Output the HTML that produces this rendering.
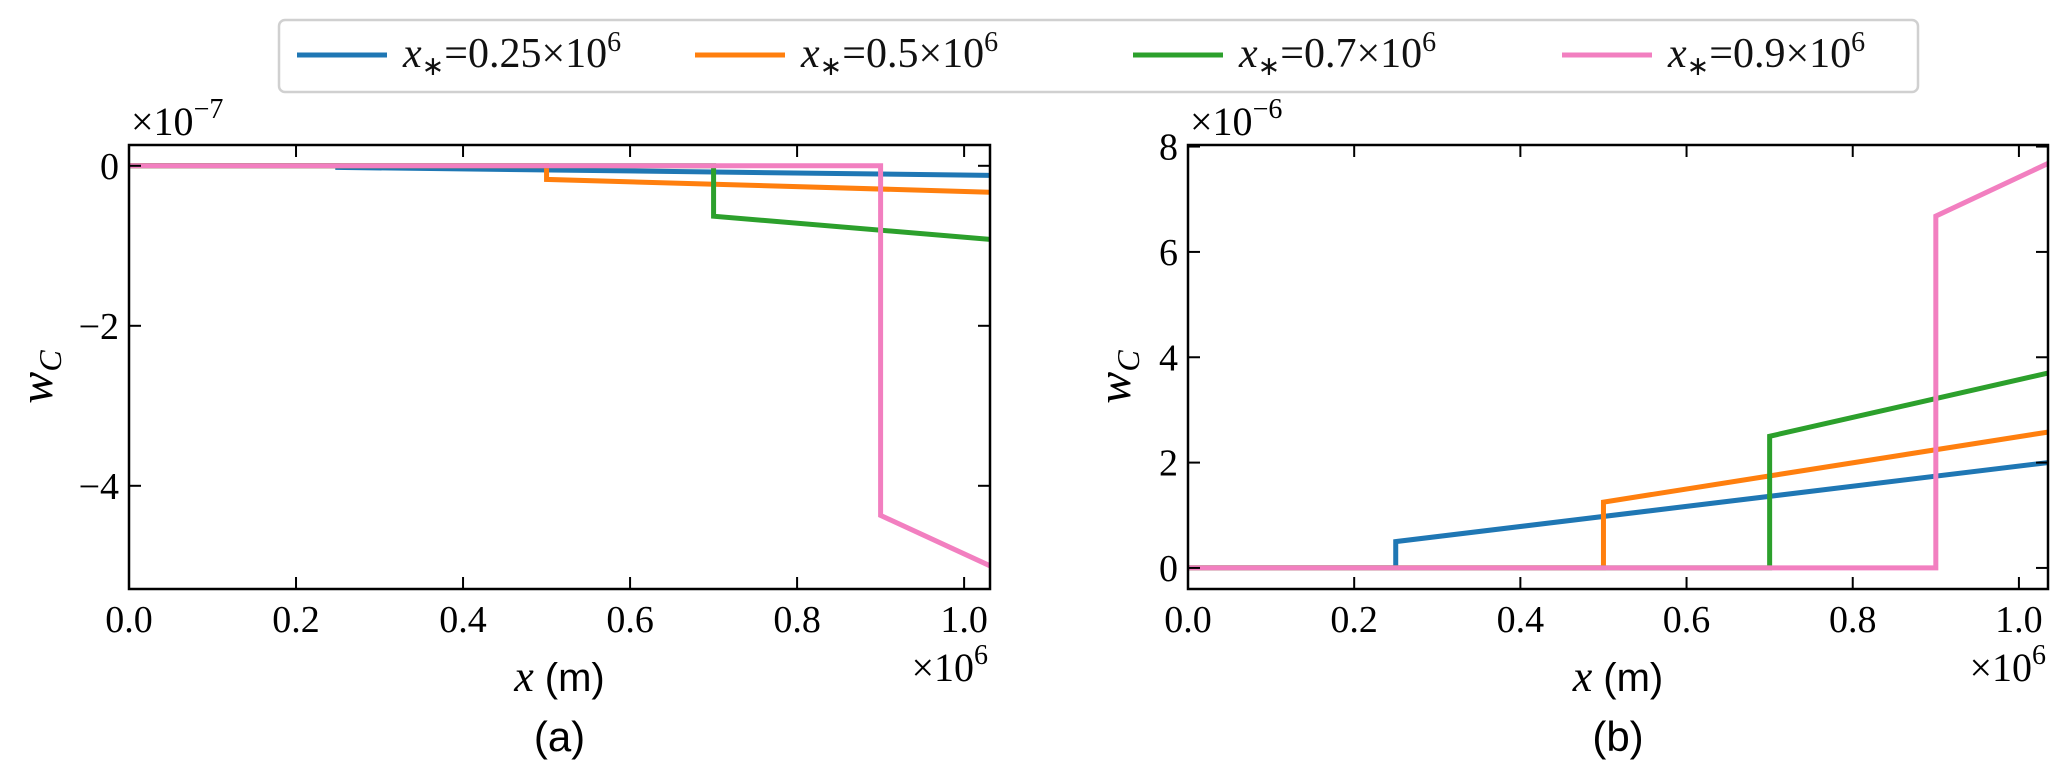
<!DOCTYPE html>
<html><head><meta charset="utf-8">
<style>
html,body{margin:0;padding:0;background:#fff;}
svg{display:block;font-family:"Liberation Serif",serif;}
</style></head>
<body>
<svg id="chart" width="2067" height="776" viewBox="0 0 2067 776" xmlns="http://www.w3.org/2000/svg">
<g id="legend">
<rect x="279" y="20" width="1639" height="72" rx="6" fill="#fff" stroke="#d0d0d0" stroke-width="2.5"/>
</g>
<g id="panels"></g>
</svg>
<script>
const seriesNames = ["0.25", "0.5", "0.7", "0.9"];
const seriesColors = ["#1f77b4", "#ff7f0e", "#2ca02c", "#f27fc0"];
const jumpX = [0.25, 0.5, 0.7, 0.9];
// panel (a) values ×1e-7: value just after jump, value at right end
const aJumpVal = [-0.02, -0.17, -0.63, -4.37];
const aEndVal = [-0.12, -0.33, -0.92, -5.0];
// panel (b) values ×1e-6
const bJumpVal = [0.5, 1.25, 2.5, 6.68];
const bEndVal = [2.0, 2.58, 3.7, 7.68];
const xTicks = [0, 0.2, 0.4, 0.6, 0.8, 1.0];
const xTickLabels = ["0.0", "0.2", "0.4", "0.6", "0.8", "1.0"];
const aYTicks = [0, -2, -4];
const aYTickLabels = ["0", "\u22122", "\u22124"];
const bYTicks = [0, 2, 4, 6, 8];
const bYTickLabels = ["0", "2", "4", "6", "8"];

const NS = "http://www.w3.org/2000/svg";
function mk(tag, attrs, parent, text) {
  const e = document.createElementNS(NS, tag);
  for (const k in attrs) e.setAttribute(k, attrs[k]);
  if (text !== undefined) e.textContent = text;
  parent.appendChild(e);
  return e;
}

const legend = document.getElementById("legend");
const legX = [297, 695, 1133, 1562];
seriesNames.forEach((n, i) => {
  const g = mk("g", {}, legend);
  
  
  mk("line", {x1: legX[i], x2: legX[i] + 90, y1: 55, y2: 55, stroke: seriesColors[i], "stroke-width": 5}, g);
  const t = mk("text", {x: legX[i] + 106, y: 67, "font-size": 42, fill: "#111"}, g);
  mk("tspan", {"font-style": "italic"}, t, "x");
  mk("tspan", {"font-size": 27, dy: 8}, t, "\u2217");
  mk("tspan", {dy: -8}, t, "=" + n + "\u00d710");
  mk("tspan", {"font-size": 28, dy: -16}, t, "6");
});

function panel(opt) {
  const root = document.getElementById("panels");
  const g = mk("g", {}, root);
  
  
  const {L, R, T, B, xmin, xmax, ymin, ymax} = opt;
  const sx = v => L + (v - xmin) / (xmax - xmin) * (R - L);
  const sy = v => B - (v - ymin) / (ymax - ymin) * (B - T);
  const clip = "clip-" + opt.name;
  const defs = mk("defs", {}, g);
  const cp = mk("clipPath", {id: clip}, defs);
  mk("rect", {x: L, y: T, width: R - L, height: B - T}, cp);
  const lines = mk("g", {"clip-path": "url(#" + clip + ")"}, g);
  seriesNames.forEach((n, i) => {
    const pts = [[xmin, 0], [jumpX[i], 0], [jumpX[i], opt.jump[i]], [xmax, opt.end[i]]];
    const p = mk("polyline", {points: pts.map(q => sx(q[0]) + "," + sy(q[1])).join(" "), fill: "none", stroke: seriesColors[i], "stroke-width": 5, "stroke-linejoin": "miter"}, lines);
    
    
  });
  xTicks.forEach((v, i) => {
    const x = sx(v);
    mk("line", {x1: x, x2: x, y1: B, y2: B - 12, stroke: "#000", "stroke-width": 2}, g);
    mk("line", {x1: x, x2: x, y1: T, y2: T + 12, stroke: "#000", "stroke-width": 2}, g);
    const t = mk("text", {x: x, y: B + 43, "font-size": 38, "text-anchor": "middle"}, g, xTickLabels[i]);
    
    
  });
  opt.yTicks.forEach((v, i) => {
    const y = sy(v);
    mk("line", {x1: L, x2: L + 12, y1: y, y2: y, stroke: "#000", "stroke-width": 2}, g);
    mk("line", {x1: R, x2: R - 12, y1: y, y2: y, stroke: "#000", "stroke-width": 2}, g);
    const t = mk("text", {x: L - 10, y: y + 13, "font-size": 38, "text-anchor": "end"}, g, opt.yLabels[i]);
    
    
  });
  const frame = mk("rect", {x: L, y: T, width: R - L, height: B - T, fill: "none", stroke: "#000", "stroke-width": 2.5}, g);
  
  
  const oy = mk("text", {x: L + 2, y: T - 10, "font-size": 40}, g);
  
  
  mk("tspan", {}, oy, "\u00d710");
  mk("tspan", {"font-size": 28, dy: -17}, oy, opt.yExp);
  const ox = mk("text", {x: R - 2, y: B + 92, "font-size": 40, "text-anchor": "end"}, g);
  
  
  mk("tspan", {}, ox, "\u00d710");
  mk("tspan", {"font-size": 28, dy: -17}, ox, "6");
  const xt = mk("text", {x: (L + R) / 2, y: B + 102, "font-size": 44, "text-anchor": "middle"}, g);
  
  
  mk("tspan", {"font-style": "italic"}, xt, "x ");
  mk("tspan", {"font-family": "Liberation Sans, sans-serif", "font-size": 40}, xt, "(m)");
  const yx = opt.yTitleX, yy = (T + B) / 2 + 10;
  const yt = mk("text", {x: yx, y: yy, "font-size": 48, "text-anchor": "middle", transform: "rotate(-90 " + yx + " " + yy + ")"}, g);
  
  
  mk("tspan", {"font-style": "italic"}, yt, "w");
  mk("tspan", {"font-style": "italic", "font-size": 32, dy: 9}, yt, "C");
  const cap = mk("text", {x: (L + R) / 2, y: B + 162, "font-size": 42, "text-anchor": "middle", "font-family": "Liberation Sans, sans-serif"}, g, opt.caption);
  
  
}

panel({name: "panel-a", L: 129, R: 990, T: 145, B: 589, xmin: 0, xmax: 1.031, ymin: -5.29, ymax: 0.26,
  jump: aJumpVal, end: aEndVal, yTicks: aYTicks, yLabels: aYTickLabels, yExp: "\u22127", yTitleX: 52, caption: "(a)"});
panel({name: "panel-b", L: 1188, R: 2048, T: 145, B: 589, xmin: 0, xmax: 1.035, ymin: -0.4, ymax: 8.03,
  jump: bJumpVal, end: bEndVal, yTicks: bYTicks, yLabels: bYTickLabels, yExp: "\u22126", yTitleX: 1130, caption: "(b)"});
</script>
</body></html>
